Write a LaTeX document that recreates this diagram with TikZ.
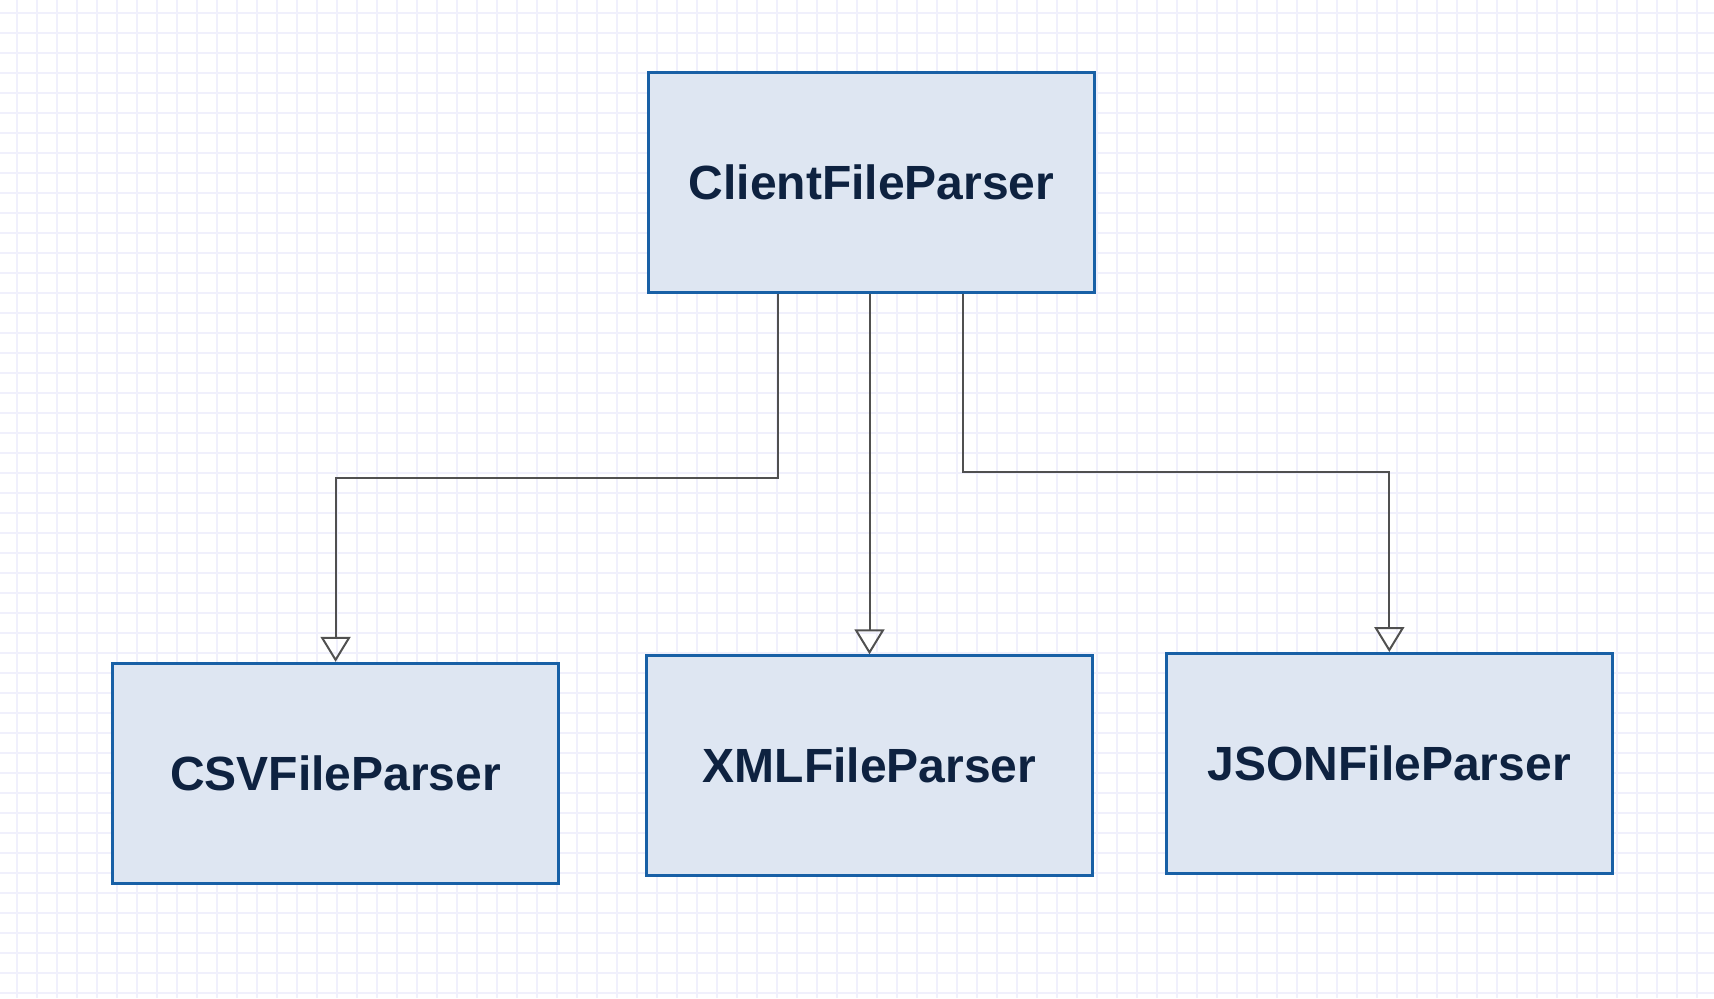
\documentclass[tikz,border=0pt]{standalone}
\usepackage{fontspec}
\setmainfont{Liberation Sans}
\usepackage{tikz}
\usetikzlibrary{calc}
\usetikzlibrary{arrows.meta}
\usetikzlibrary{positioning}
\definecolor{boxblue}{RGB}{24, 96, 166}
\definecolor{boxfill}{RGB}{222, 230, 242}
\definecolor{textnavy}{RGB}{14, 34, 64}
\definecolor{gridlav}{RGB}{240, 240, 252}
\definecolor{linkgray}{RGB}{80, 80, 80}

\tikzset{
    parser/.style={draw=boxblue, fill=boxfill, line width=1.5pt,
                   minimum width=223pt, minimum height=110pt,
                   text=textnavy, font=\fontsize{24}{28}\selectfont\bfseries},
    link/.style={draw=linkgray, line width=1pt,
                 -{Triangle[open, width=15pt, length=12.5pt, line width=1pt]}}
}

\begin{document}
\begin{tikzpicture}[x=0.5pt, y=-0.5pt]
            % Frame and background grid
            \useasboundingbox (0,0) rectangle (1714,998);
            \fill[white] (0,0) rectangle (1714,998);
            \foreach \gx in {17,37,...,1714}
                \draw[gridlav, line width=0.8pt] (\gx,0) -- (\gx,998);
            \foreach \gy in {13,33,...,998}
                \draw[gridlav, line width=0.8pt] (0,\gy) -- (1714,\gy);
            % Base class
            \node[parser] (client) at (871.6,182) {ClientFileParser};
            % Subclasses
            \node[parser] (csv)  at ( 335.6,773.3) {CSVFileParser};
            \node[parser] (xml)  at ( 869.5,765.8) {XMLFileParser};
            \node[parser] (json) at (1389.3,763.5) {JSONFileParser};
            % Bends
            \coordinate (csvbend)  at (778.3,477.7);
            \coordinate (jsonbend) at (963.0,472.2);
            % Inheritance links
            \draw[link] (client.south -| csvbend) -- (csvbend) -| (csv.north);
            \draw[link] (client.south -| xml.north) -- (xml.north);
            \draw[link] (client.south -| jsonbend) -- (jsonbend) -| (json.north);
        \end{tikzpicture}
\end{document}
